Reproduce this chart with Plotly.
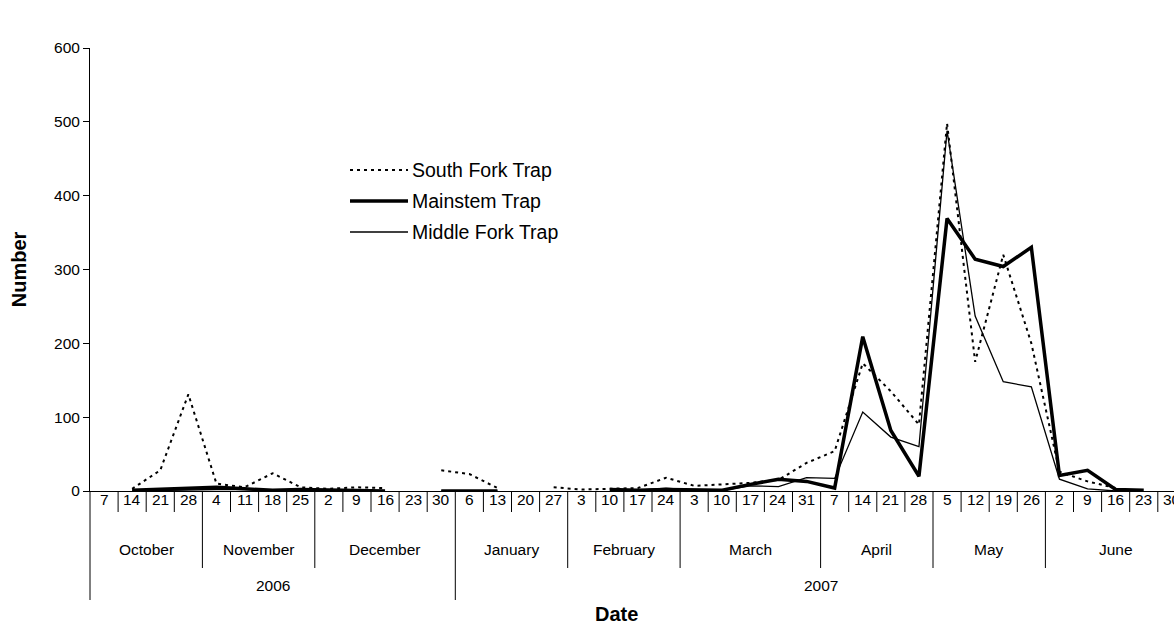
import pandas as pd
import plotly.graph_objects as go

# Weekly sampling dates (Saturdays), October 2006 - June 2007
week_dates = [
    "2006-10-07", "2006-10-14", "2006-10-21", "2006-10-28",
    "2006-11-04", "2006-11-11", "2006-11-18", "2006-11-25",
    "2006-12-02", "2006-12-09", "2006-12-16", "2006-12-23", "2006-12-30",
    "2007-01-06", "2007-01-13", "2007-01-20", "2007-01-27",
    "2007-02-03", "2007-02-10", "2007-02-17", "2007-02-24",
    "2007-03-03", "2007-03-10", "2007-03-17", "2007-03-24", "2007-03-31",
    "2007-04-07", "2007-04-14", "2007-04-21", "2007-04-28",
    "2007-05-05", "2007-05-12", "2007-05-19", "2007-05-26",
    "2007-06-02", "2007-06-09", "2007-06-16", "2007-06-23", "2007-06-30",
]

# Weekly catch per trap (None = trap not fishing)
south_fork = [
    None, 3, 28, 131, 10, 5, 24, 5, 3, 5, 4, None, 28,
    23, 4, None, 5, 2, 3, 4, 18, 7, 9, 11, 15, 38,
    54, 173, 135, 90, 498, 175, 320, 200, 26, 13, 4, None, None,
]
mainstem = [
    None, 1, 2, 4, 5, 3, 1, 2, 1, 1, 0, None, 0,
    0, 0, None, None, None, 2, 1, 2, 1, 1, 9, 16, 13,
    4, 209, 82, 20, 369, 314, 304, 330, 21, 28, 2, 1, None,
]
middle_fork = [
    None, 0, 1, 2, 2, 2, 1, 0, 1, 1, 0, None, 0,
    0, 0, None, None, None, 1, 1, 4, 1, 1, 7, 6, 18,
    17, 107, 73, 60, 488, 237, 148, 141, 16, 3, 0, None, None,
]

series_names = ["South Fork Trap", "Mainstem Trap", "Middle Fork Trap"]
y_ticks = [0, 100, 200, 300, 400, 500, 600]

FONT = "Liberation Sans, Arial, sans-serif"
W, H = 1174, 624
M_L, M_R, M_T, M_B = 90, 0, 48, 133
PLOT_H = H - M_T - M_B
PLOT_W = W - M_L - M_R
CAT_W = 28.1  # pixel width of one weekly category


def py(pix):
    """Pixel row -> paper y."""
    return (H - M_B - pix) / PLOT_H


def px(pix):
    """Pixel column -> paper x."""
    return (pix - M_L) / PLOT_W


dates = pd.to_datetime(pd.Series(week_dates))
idx = list(range(len(dates)))

styles = [
    dict(color="black", width=2, dash="3px,4px"),
    dict(color="black", width=3.5),
    dict(color="black", width=1.3),
]

fig = go.Figure()
for name, vals, st in zip(series_names, [south_fork, mainstem, middle_fork], styles):
    fig.add_trace(go.Scatter(
        x=idx, y=vals, mode="lines", name=name, line=st,
        connectgaps=False, showlegend=False,
    ))

shapes = []
annotations = []

y_day_txt, y_day_end = py(500), py(512)
y_mon_txt, y_mon_end = py(549), py(568)
y_yr_txt, y_yr_end = py(585), py(600)
axis_font = dict(family=FONT, size=15.5, color="black")

# Day-of-month row
for i, d in zip(idx, dates):
    annotations.append(dict(
        x=i, y=y_day_txt, xref="x", yref="paper", text=str(d.day),
        showarrow=False, xanchor="center", yanchor="middle", font=axis_font,
    ))

# Separators: short between weeks, longer at month and year changes
months = dates.dt.to_period("M")
years = dates.dt.year
for i in idx[:-1]:
    if years[i] != years[i + 1]:
        end = y_yr_end
    elif months[i] != months[i + 1]:
        end = y_mon_end
    else:
        end = y_day_end
    shapes.append(dict(type="line", xref="x", yref="paper",
                       x0=i + 0.5, x1=i + 0.5, y0=0, y1=end,
                       line=dict(color="black", width=1)))
shapes.append(dict(type="line", xref="paper", yref="paper",
                   x0=0, x1=0, y0=0, y1=y_yr_end,
                   line=dict(color="black", width=1)))

# Month row labels
for per, grp in pd.Series(idx).groupby(months.values):
    annotations.append(dict(
        x=(grp.min() + grp.max()) / 2, y=y_mon_txt, xref="x", yref="paper",
        text=per.strftime("%B"), showarrow=False, xanchor="center",
        yanchor="middle", font=axis_font,
    ))

# Year row labels
for yr, grp in pd.Series(idx).groupby(years.values):
    annotations.append(dict(
        x=(grp.min() + grp.max()) / 2, y=y_yr_txt, xref="x", yref="paper",
        text=str(yr), showarrow=False, xanchor="center", yanchor="middle",
        font=axis_font,
    ))

# X axis title
annotations.append(dict(
    x=px(616), y=py(614), xref="paper", yref="paper", text="<b>Date</b>",
    showarrow=False, xanchor="center", yanchor="middle",
    font=dict(family=FONT, size=20, color="black"),
))

# Legend block
leg_rows = [170, 201, 232]
for name, st, row in zip(series_names, styles, leg_rows):
    shapes.append(dict(type="line", xref="paper", yref="paper",
                       x0=px(350), x1=px(408), y0=py(row), y1=py(row),
                       line=st))
    annotations.append(dict(
        x=px(410), y=py(row), xref="paper", yref="paper", text=name,
        showarrow=False, xanchor="left", yanchor="middle",
        font=dict(family=FONT, size=19.5, color="black"),
    ))

fig.update_layout(
    width=W, height=H,
    margin=dict(l=M_L, r=M_R, t=M_T, b=M_B),
    paper_bgcolor="white", plot_bgcolor="white",
    font=dict(family=FONT, size=16, color="black"),
    shapes=shapes, annotations=annotations,
    showlegend=False,
)
fig.update_xaxes(
    range=[-0.5, -0.5 + PLOT_W / CAT_W],
    showticklabels=False, ticks="", showgrid=False, zeroline=False,
    showline=True, linecolor="black", linewidth=1,
)
fig.update_yaxes(
    range=[0, 600], tickvals=y_ticks, ticks="outside", ticklen=6,
    tickcolor="black", showgrid=False, zeroline=False,
    showline=True, linecolor="black", linewidth=1,
    tickfont=dict(family=FONT, size=15.5, color="black"),
    title=dict(text="<b>Number</b>", font=dict(family=FONT, size=20, color="black"),
               standoff=22),
)

fig.write_html("out.html")
